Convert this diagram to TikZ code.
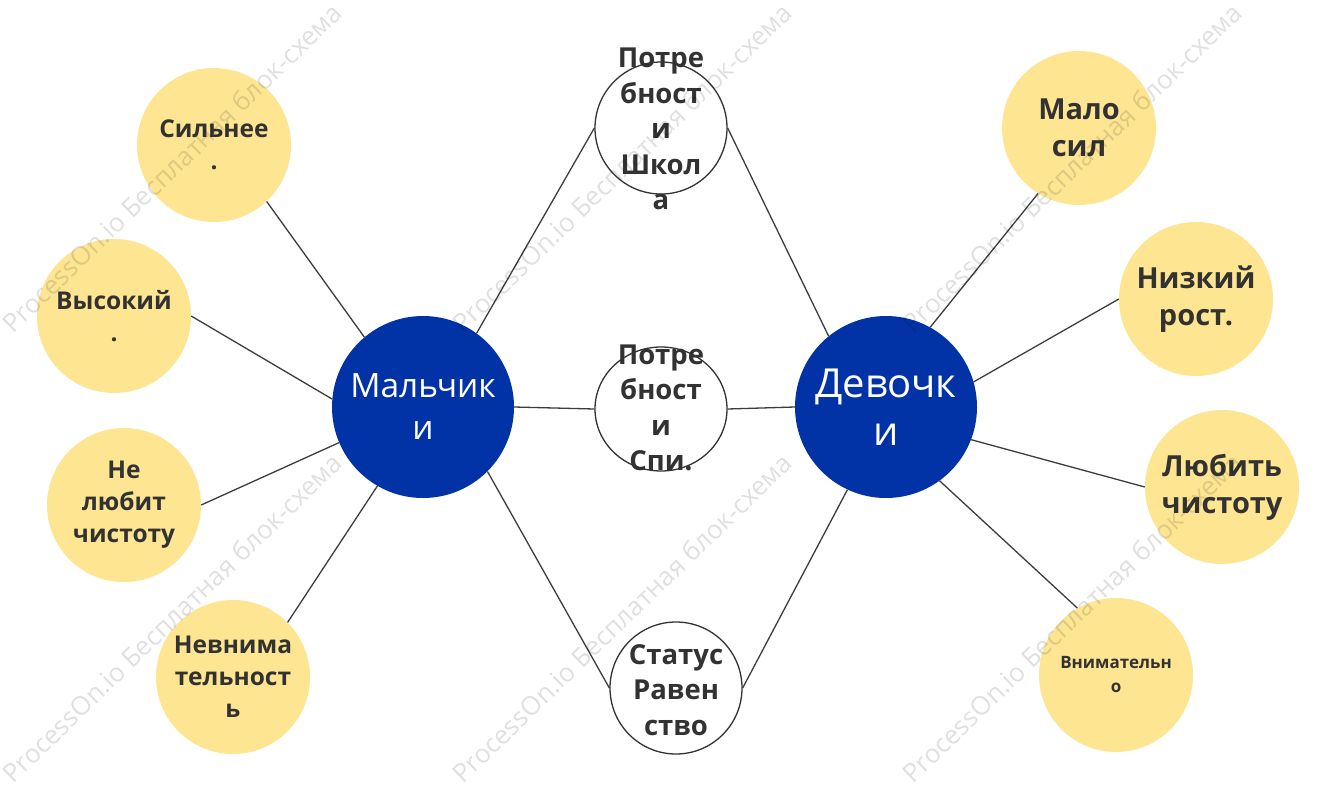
\documentclass[tikz,border=0pt]{standalone}
\usepackage{fontspec}
\setmainfont{Open Sans}
\usetikzlibrary{shapes.geometric}
\definecolor{yel}{RGB}{254,229,146}
\definecolor{blu}{RGB}{1,51,166}
\definecolor{ink}{RGB}{50,50,50}
\definecolor{edgec}{RGB}{60,60,60}
\tikzset{
  ycirc/.style={circle,fill=yel,draw=none,minimum size=154pt,inner sep=0pt},
  bcirc/.style={circle,fill=blu,draw=none,minimum size=182pt,inner sep=0pt},
  wcirc/.style={circle,fill=white,draw=ink,line width=1.3pt,minimum size=132pt,inner sep=0pt},
  wellip/.style={ellipse,fill=white,draw=ink,line width=1.3pt,minimum width=132pt,minimum height=124pt,inner sep=0pt},
  ytxtL/.style={text=ink,align=center,font=\bfseries\fontsize{24.5}{32}\selectfont},
  ytxtR/.style={text=ink,align=center,font=\bfseries\fontsize{29}{37}\selectfont},
  ytxtS/.style={text=ink,align=center,font=\bfseries\fontsize{17}{24}\selectfont},
  wtxt/.style={text=ink,align=center,font=\bfseries\fontsize{27.5}{35.5}\selectfont},
  btxtA/.style={text=white,align=center,font=\fontsize{33.5}{42}\selectfont},
  btxtB/.style={text=white,align=center,font=\fontsize{40}{48}\selectfont},
  edge/.style={draw=edgec,line width=1.3pt},
  wmark/.style={text=black,opacity=0.12,rotate=44,font=\fontsize{26}{30}\selectfont}
}
\begin{document}
\begin{tikzpicture}[x=1pt,y=-1pt]
\useasboundingbox[fill=white] (0,0) rectangle (1338,790);
% circles
\node[ycirc] (strong) at (214,145) {};
\node[ycirc] (tall) at (114,316) {};
\node[ycirc] (dirty) at (124,505) {};
\node[ycirc] (inatt) at (233,677) {};
\node[ycirc] (weak) at (1079,128) {};
\node[ycirc] (short) at (1196,299) {};
\node[ycirc] (clean) at (1222,487) {};
\node[ycirc] (att) at (1116,675) {};
\node[bcirc] (boys) at (423,407) {};
\node[bcirc] (girls) at (886,407) {};
\node[wcirc] (wtop) at (661,128) {};
\node[wellip] (wmid) at (661,409) {};
\node[wcirc] (wbot) at (676,688) {};
% connectors
\draw[edge] (strong.-47) -- (boys.130);
\draw[edge] (tall.east) -- (boys.175);
\draw[edge] (dirty.east) -- (boys.203.5);
\draw[edge] (inatt.45.5) -- (boys.240.4);
\draw[edge] (boys.54) -- (wtop.west);
\draw[edge] (boys.east) -- (wmid.west);
\draw[edge] (boys.-45.4) -- (wbot.west);
\draw[edge] (girls.129) -- (wtop.east);
\draw[edge] (girls.west) -- (wmid.east);
\draw[edge] (girls.245.4) -- (wbot.east);
\draw[edge] (girls.61.5) -- (weak.238);
\draw[edge] (girls.16.1) -- (short.west);
\draw[edge] (girls.-21.9) -- (clean.west);
\draw[edge] (girls.-54.5) -- (att.120.3);
% texts
\node[ytxtL] (tstrong) at (strong) {Сильнее\\.};
\node[ytxtL] (ttall) at (tall) {Высокий\\.};
\node[ytxtL] (tdirty) at (dirty) {Не\\любит\\чистоту};
\node[ytxtL] (tinatt) at (inatt) {Невнима\\тельност\\ь};
\node[ytxtR] (tweak) at (weak) {Мало\\сил};
\node[ytxtR] (tshort) at (short) {Низкий\\рост.};
\node[ytxtR] (tclean) at (clean) {Любить\\чистоту};
\node[ytxtS] (tatt) at (att) {Внимательн\\о};
\node[btxtA] (tboys) at (boys) {Мальчик\\и};
\node[btxtB] (tgirls) at (girls) {Девочк\\и};
\node[wtxt] (twtop) at (661,129) {Потре\\бност\\и\\Школ\\а};
\node[wtxt] (twmid) at (661,408) {Потре\\бност\\и\\Спи.};
\node[wtxt] (twbot) at (676,690) {Статус\\Равен\\ство};
% watermarks
\foreach \x/\y [count=\i] in {172/168,622/168,1072/168,172/618,622/618,1072/618}
  \node[wmark] (wm\i) at (\x,\y) {ProcessOn.io Бесплатная блок-схема};
\end{tikzpicture}
\end{document}
